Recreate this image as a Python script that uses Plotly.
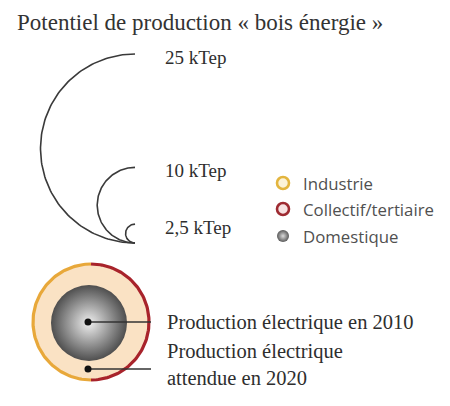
import numpy as np
import plotly.graph_objects as go

# Potential production ("bois énergie") scale key
scale_values = [25, 10, 2.5]
scale_labels = ["25 kTep", "10 kTep", "2,5 kTep"]

# Legend entries
legend_names = ["Industrie", "Collectif/tertiaire", "Domestique"]
legend_colors = ["#e3b53e", "#9e2a31", "#6a6a6a"]
legend_fills = ["#fcf3d8", "#f7e2e2", "#e6e6e6"]

# Example circle annotations
example_labels = ["Production électrique en 2010",
                  "Production électrique<br>attendue en 2020"]

title = "Potentiel de production « bois énergie »"

W, H = 450, 406
PX_PER_KTEP = 3.78          # radius in px per kTep
ARC_X, ARC_BASE = 135, 243  # common tangent point of the scale arcs

SERIF = "Liberation Serif, Times New Roman, serif"
SANS = "Open Sans, Noto Sans, sans-serif"
TEXT = "#2e2e2e"

fig = go.Figure()

# Scale arcs: left half-circles sharing the bottom tangent point
t = np.linspace(np.pi / 2, 3 * np.pi / 2, 120)
for v, lab in zip(scale_values, scale_labels):
    r = v * PX_PER_KTEP
    cy = ARC_BASE - r
    fig.add_trace(go.Scatter(
        x=ARC_X + r * np.cos(t), y=cy - r * np.sin(t),
        mode="lines", line=dict(color="#3a3a3a", width=1.6),
        hoverinfo="skip", showlegend=False))
    fig.add_annotation(x=163, y=cy - r + 3, text=lab, showarrow=False,
                       xanchor="left", yanchor="middle",
                       font=dict(family=SERIF, size=19, color=TEXT))

# Legend markers and texts
leg_y = [183, 209, 236]
for name, col, fil, y in zip(legend_names, legend_colors, legend_fills, leg_y):
    if name == "Domestique":
        marker = dict(size=12, color="#5a5a5a",
                      gradient=dict(type="radial", color="#dcdcdc"),
                      line=dict(width=0))
    else:
        marker = dict(size=12, color=fil, line=dict(color=col, width=2.6))
    fig.add_trace(go.Scatter(x=[283], y=[y], mode="markers", marker=marker,
                             hoverinfo="skip", showlegend=False))
    fig.add_annotation(x=301, y=y, text=name, showarrow=False,
                       xanchor="left", yanchor="middle",
                       font=dict(family=SANS, size=16.8, color="#505050"))

# Example circle: 2020 ring (industry left half, collective right half)
cx, cy, R = 91, 322, 58
ang = np.linspace(0, 2 * np.pi, 200)
fig.add_trace(go.Scatter(x=cx + R * np.cos(ang), y=cy + R * np.sin(ang),
                         mode="lines", fill="toself", fillcolor="#fae2c4",
                         line=dict(width=0), hoverinfo="skip", showlegend=False))
left = np.linspace(np.pi / 2, 3 * np.pi / 2, 100)
right = np.linspace(-np.pi / 2, np.pi / 2, 100)
fig.add_trace(go.Scatter(x=cx + R * np.cos(left), y=cy + R * np.sin(left),
                         mode="lines", line=dict(color="#e8a83a", width=3.2),
                         hoverinfo="skip", showlegend=False))
fig.add_trace(go.Scatter(x=cx + R * np.cos(right), y=cy + R * np.sin(right),
                         mode="lines", line=dict(color="#a8232b", width=3.2),
                         hoverinfo="skip", showlegend=False))

# 2010 domestic production: shaded grey disc
fig.add_trace(go.Scatter(x=[89], y=[323], mode="markers",
                         marker=dict(size=76, color="#4e4e4e",
                                     gradient=dict(type="radial", color="#efefef"),
                                     line=dict(width=0)),
                         hoverinfo="skip", showlegend=False))

# Leader lines and dots
dot_y = [322, 369]
for y in dot_y:
    fig.add_trace(go.Scatter(x=[88, 151], y=[y, y], mode="lines",
                             line=dict(color="#333333", width=1.3),
                             hoverinfo="skip", showlegend=False))
    fig.add_trace(go.Scatter(x=[88], y=[y], mode="markers",
                             marker=dict(size=7, color="#111111"),
                             hoverinfo="skip", showlegend=False))

fig.add_annotation(x=165, y=322, text=example_labels[0], showarrow=False,
                   xanchor="left", yanchor="middle",
                   font=dict(family=SERIF, size=20.5, color=TEXT))
fig.add_annotation(x=165, y=364, text=example_labels[1], showarrow=False,
                   xanchor="left", yanchor="middle", align="left",
                   font=dict(family=SERIF, size=20.5, color=TEXT))

fig.add_annotation(x=15, y=22, text=title, showarrow=False,
                   xanchor="left", yanchor="middle",
                   font=dict(family=SERIF, size=23, color="#333333"))

fig.update_layout(
    width=W, height=H, margin=dict(l=0, r=0, t=0, b=0),
    paper_bgcolor="white", plot_bgcolor="white",
    xaxis=dict(range=[0, W], visible=False, fixedrange=True),
    yaxis=dict(range=[H, 0], visible=False, fixedrange=True),
)

fig.write_html("out.html")
